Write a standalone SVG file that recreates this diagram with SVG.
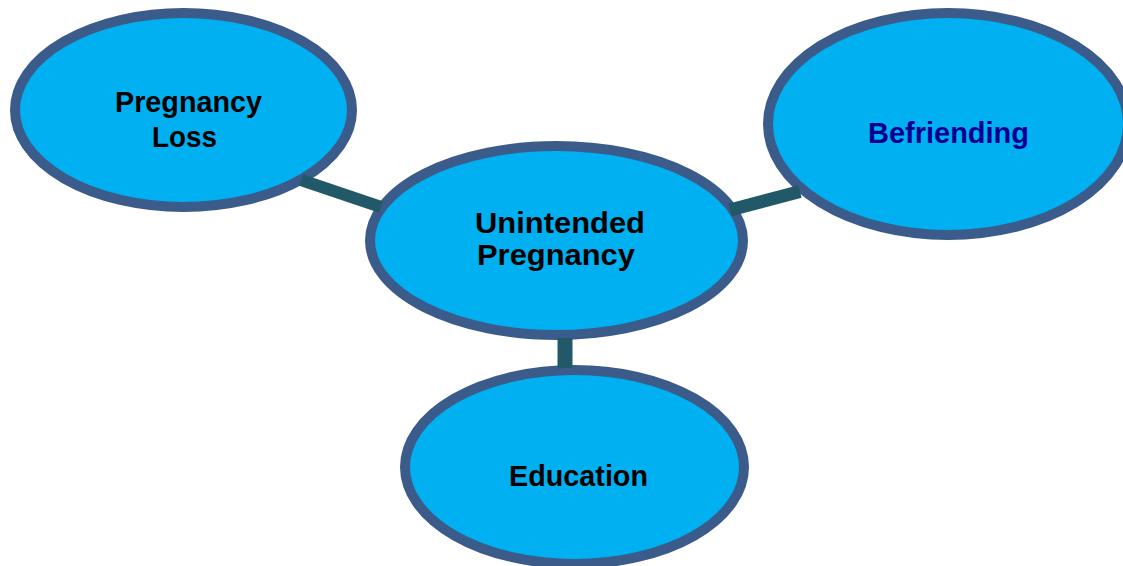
<svg xmlns="http://www.w3.org/2000/svg" width="1123" height="566" viewBox="0 0 1123 566">
<style>
.node{fill:#00B0F0;stroke:#3B5C8B;stroke-width:10}
.conn{stroke:#215968;stroke-linecap:butt;fill:none}
.lbl{font-family:"Liberation Sans",Arial,sans-serif;font-weight:bold;font-size:29px;fill:#000;text-anchor:middle}
</style>
<rect width="1123" height="566" fill="#fff"/>
<g id="node-loss">
<ellipse class="node" cx="183.5" cy="110" rx="168.5" ry="97"/>
<text class="lbl" x="188.5" y="112" textLength="147" lengthAdjust="spacingAndGlyphs">Pregnancy</text>
<text class="lbl" x="184.5" y="147" textLength="65" lengthAdjust="spacingAndGlyphs">Loss</text>
</g>
<g id="node-befriending">
<ellipse class="node" cx="948" cy="124" rx="180" ry="111"/>
<text class="lbl" x="948.5" y="143" style="fill:#000090" textLength="161" lengthAdjust="spacingAndGlyphs">Befriending</text>
</g>
<g id="node-unintended">
<ellipse class="node" cx="556.5" cy="240.5" rx="186.5" ry="94.5"/>
<text class="lbl" x="560" y="233" textLength="170" lengthAdjust="spacingAndGlyphs">Unintended</text>
<text class="lbl" x="556" y="265" textLength="158" lengthAdjust="spacingAndGlyphs">Pregnancy</text>
</g>
<g id="node-education">
<ellipse class="node" cx="574.5" cy="467" rx="169.5" ry="97"/>
<text class="lbl" x="578.5" y="486" textLength="139" lengthAdjust="spacingAndGlyphs">Education</text>
</g>
<g id="connectors">
<line class="conn" x1="301" y1="180" x2="381" y2="207" stroke-width="12"/>
<line class="conn" x1="730" y1="210" x2="800" y2="191.5" stroke-width="13"/>
<line class="conn" x1="565" y1="338" x2="565" y2="368" stroke-width="15"/>
</g>
</svg>
